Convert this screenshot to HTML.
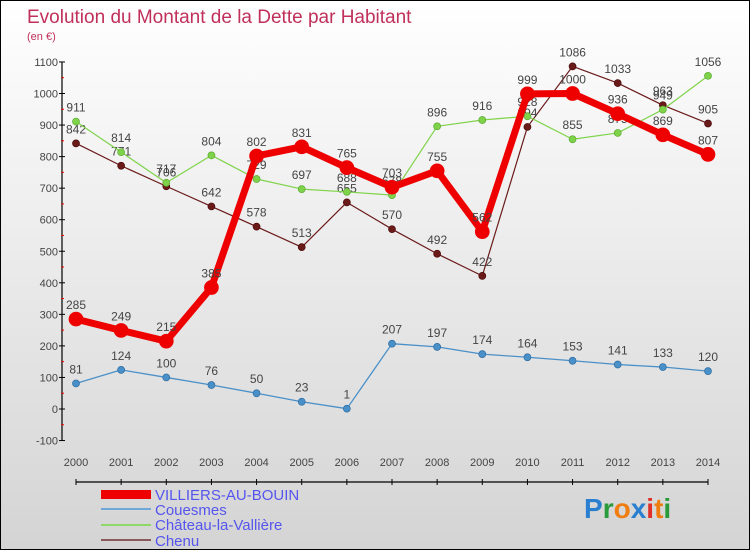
<!DOCTYPE html>
<html><head><meta charset="utf-8"><style>
body{margin:0}
#wrap{width:748px;height:548px;border:1px solid #000;background:linear-gradient(#ffffff,#d4d4d4);position:relative;overflow:hidden;font-family:"Liberation Sans",sans-serif}
</style></head><body>
<div id="wrap">
<svg id="chart" width="748" height="548">
<text x="26" y="22" font-size="19" fill="#c0305a">Evolution du Montant de la Dette par Habitant</text>
<text x="26" y="39" font-size="11" fill="#c0305a">(en €)</text>
<g id="axes"></g><g id="series"></g>
<g font-size="15" fill="#5555ee">
<rect x="100" y="489" width="50" height="9" fill="#e00"/>
<text x="154" y="499">VILLIERS-AU-BOUIN</text>
<rect x="100" y="507" width="50" height="2" fill="#6fa8d8"/>
<text x="154" y="514">Couesmes</text>
<rect x="100" y="523" width="50" height="2" fill="#8ed86a"/>
<text x="154" y="529">Château-la-Vallière</text>
<rect x="100" y="538" width="50" height="2" fill="#8a5a5a"/>
<text x="154" y="545">Chenu</text>
</g>
<text x="583" y="517" font-size="28" font-weight="bold"><tspan fill="#2a7fd0">P</tspan><tspan fill="#2a9a3a">r</tspan><tspan fill="#f07d10">o</tspan><tspan fill="#2a7fd0">x</tspan><tspan fill="#e0302a">i</tspan><tspan fill="#f07d10">t</tspan><tspan fill="#2a9a3a">i</tspan></text>
</svg>
</div>
<script>
const years=[2000,2001,2002,2003,2004,2005,2006,2007,2008,2009,2010,2011,2012,2013,2014];
const yTicks=[-100,0,100,200,300,400,500,600,700,800,900,1000,1100];
const villiers=[285,249,215,385,802,831,765,703,755,562,999,1000,936,869,807];
const couesmes=[81,124,100,76,50,23,1,207,197,174,164,153,141,133,120];
const chateau=[911,814,717,804,729,697,688,678,896,916,928,855,875,949,1056];
const chenu=[842,771,706,642,578,513,655,570,492,422,894,1086,1033,963,905];
const NS='http://www.w3.org/2000/svg';
const X=i=>75+i*(632/14);
const Y=v=>408-v*0.3155;
function mk(tag,attrs,parent){const e=document.createElementNS(NS,tag);for(const k in attrs)e.setAttribute(k,attrs[k]);parent.appendChild(e);return e;}
const ax=document.getElementById('axes');
mk('line',{x1:61,y1:Y(1100),x2:61,y2:Y(-100),stroke:'#000','stroke-width':1.2},ax);
mk('line',{x1:75,y1:481,x2:707,y2:481,stroke:'#000','stroke-width':1.2},ax);
yTicks.forEach(t=>{
 const y=Y(t);
 const l=mk('line',{x1:58,y1:y,x2:64,y2:y,stroke:'#000'},ax);
 
 
 if(t<1100){const m=mk('line',{x1:60,y1:y-15.8,x2:63,y2:y-15.8,stroke:'#e00'},ax);}
 const tx=mk('text',{x:57,y:y+4,'font-size':11,fill:'#444','text-anchor':'end'},ax);
 tx.textContent=t;
 
 
});
years.forEach((yr,i)=>{
 mk('line',{x1:X(i),y1:478,x2:X(i),y2:484,stroke:'#000'},ax);
 const tx=mk('text',{x:X(i),y:465+0,'font-size':11,fill:'#444','text-anchor':'middle'},ax);
 tx.setAttribute('y',465);
 tx.textContent=yr;
 
 
});
const sg=document.getElementById('series');
function draw(vals,name,color,lw,r,stroke){
 const g=mk('g',{},sg);
 
 
 mk('polyline',{points:vals.map((v,i)=>X(i)+','+Y(v)).join(' '),fill:'none',stroke:color,'stroke-width':lw,'stroke-linejoin':'round'},g);
 vals.forEach((v,i)=>{
  const c=mk('circle',{cx:X(i),cy:Y(v),r:r,fill:color,stroke:stroke,'stroke-width':0.7},g);
  
  
  const t=mk('text',{x:X(i),y:Y(v)-10,'font-size':12,fill:'#444','text-anchor':'middle'},g);
  t.textContent=v;
  
  
 });
}
draw(couesmes,'couesmes','#4a90c8',1.3,3.5,'#2a6aa0');
draw(chenu,'chenu','#6b1a1a',1.2,3.5,'#4a0a0a');
draw(chateau,'chateau','#7fd34a',1.2,3.5,'#5aa830');
draw(villiers,'villiers','#ee0000',7,7,'#ee0000');
</script>
</body></html>
